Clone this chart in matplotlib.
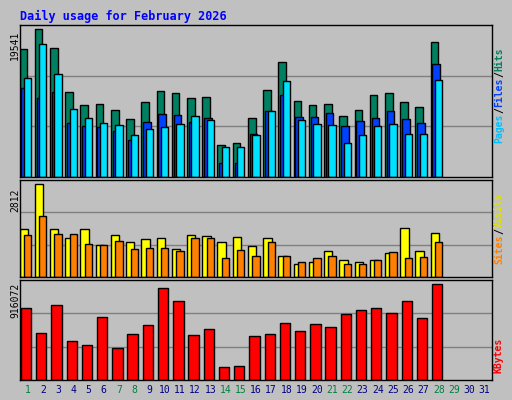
import matplotlib
matplotlib.use("Agg")
import matplotlib.pyplot as plt
import numpy as np

days = list(range(1, 32))
weekend_days = [1, 7, 8, 14, 15, 21, 22, 28, 29]
max_hits = 19541
max_visits = 2812
max_kbytes = 916072
hits = [19541*(468-y)/450 for y in [88,28,85,214,253,250,268,295,244,211,217,232,229,373,367,292,208,124,241,253,250,286,268,223,217,244,259,67]]
files = [19541*(468-y)/450 for y in [202,232,214,307,316,319,331,358,304,280,283,304,292,427,427,340,271,223,289,289,277,316,301,292,271,295,307,130]]
pages = [19541*(468-y)/450 for y in [172,73,160,265,292,307,313,343,325,319,310,286,298,379,379,343,271,181,298,310,313,367,343,316,310,340,340,178]]
visits = [2812*(304-y)/276 for y in [160,28,160,187,160,208,178,199,190,187,220,178,181,199,184,211,187,241,265,259,226,253,259,253,232,157,226,172]]
sites = [2812*(304-y)/276 for y in [178,121,175,175,205,208,196,220,217,217,226,187,187,247,223,241,199,241,259,247,241,265,265,253,229,247,244,199]]
kbytes = [916072*(612-y)/284 for y in [397,472,388,496,508,424,517,475,448,340,376,478,460,574,571,481,475,442,466,445,454,415,403,397,412,376,427,328]]

W, H = 512, 400
fig = plt.figure(figsize=(W/100, H/100), dpi=100, facecolor="#C0C0C0")
mono = "DejaVu Sans Mono"
fig.text(20/W, 1-16/H, "Daily usage for February 2026", color="#0000FF",
         fontsize=8.5, fontweight="bold", family=mono, va="center")

def mkax(y0, y1):
    ax = fig.add_axes([20/W, 1-y1/H, 472/W, (y1-y0)/H])
    ax.set_facecolor("#C0C0C0")
    ax.set_xlim(0.5, 31.5)
    ax.set_xticks([]); ax.set_yticks([])
    for s in ax.spines.values():
        s.set_color("black"); s.set_linewidth(1)
    return ax

ec = dict(edgecolor="black", linewidth=1)
x = np.arange(1, len(hits)+1)

ax1 = mkax(25, 177)
ax1.set_ylim(0, max_hits*453/450)
for g in [1/3, 2/3]:
    ax1.axhline(max_hits*453/450*g, color="#808080", lw=1, zorder=0)
ax1.bar(x-0.53, hits, width=0.5, align="edge", color="#008060", **ec)
ax1.bar(x-0.41, files, width=0.5, align="edge", color="#0040FF", **ec)
ax1.bar(x-0.24, pages, width=0.48, align="edge", color="#00E0FF", **ec)

ax2 = mkax(180, 277)
top2 = max_visits*289/276
ax2.set_ylim(0, top2)
for g in [1/3, 2/3]:
    ax2.axhline(top2*g, color="#808080", lw=1, zorder=0)
ax2.bar(x-0.53, visits, width=0.55, align="edge", color="#FFFF00", **ec)
ax2.bar(x-0.24, sites, width=0.48, align="edge", color="#FF8000", **ec)

ax3 = mkax(280, 380)
top3 = max_kbytes*297/284
ax3.set_ylim(0, top3)
for g in [1/3, 2/3]:
    ax3.axhline(top3*g, color="#808080", lw=1, zorder=0)
ax3.bar(x-0.44, kbytes, width=0.68, align="edge", color="#FF0000", **ec)

for d in days:
    fig.text((20 + (d-0.5)*472/31)/W, 1-390/H, str(d), ha="center", va="center",
             fontsize=7, family=mono,
             color="#008040" if d in weekend_days else "#000080")

fs = 7
fig.text(15/W, 1-45/H, str(max_hits), rotation=90, ha="center", va="center", fontsize=fs, family=mono)
fig.text(15/W, 1-200/H, str(max_visits), rotation=90, ha="center", va="center", fontsize=fs, family=mono)
fig.text(15/W, 1-300/H, str(max_kbytes), rotation=90, ha="center", va="center", fontsize=fs, family=mono)

def rlabel(yc, parts):
    # parts bottom-to-top
    total = sum(len(t) for t, _ in parts)
    ch = 6.0
    y = yc + total*ch/2
    for t, c in parts:
        n = len(t)
        fig.text(499/W, 1-(y - n*ch/2)/H, t, rotation=90, ha="center", va="center",
                 fontsize=fs, family=mono, color=c, fontweight="bold")
        y -= n*ch

rlabel(95, [("Pages", "#00C0FF"), ("/", "#000000"), ("Files", "#0040FF"), ("/", "#000000"), ("Hits", "#008060")])
rlabel(228, [("Sites", "#FF8000"), ("/", "#000000"), ("Visits", "#E0E000")])
rlabel(355, [("KBytes", "#FF0000")])

fig.savefig("out.png", dpi=100, facecolor=fig.get_facecolor())
